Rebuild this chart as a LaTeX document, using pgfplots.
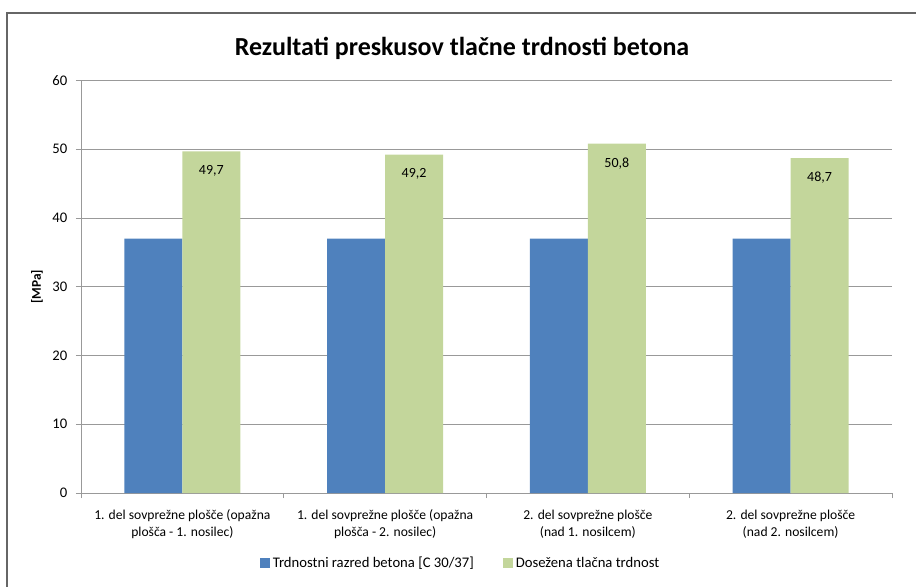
\documentclass[border=0pt]{standalone}
\usepackage{pgfplots}
\pgfplotsset{compat=1.18}
\usepackage{fontspec}
\setmainfont{Carlito}
\definecolor{cblue}{HTML}{4F81BD}
\definecolor{cgreen}{HTML}{C3D69B}
\definecolor{gridc}{HTML}{999999}
\begin{document}
\begin{tikzpicture}
\useasboundingbox (0,0) rectangle (687pt,439.5pt);
\draw[gray!80!black, line width=1pt] (5.25pt,-15pt) rectangle (705pt,429.75pt);
\node[font=\bfseries\fontsize{19.5}{23}\selectfont] at (346.5pt,403.5pt) {Rezultati preskusov tlačne trdnosti betona};
\begin{axis}[
  at={(60.75pt,69.75pt)}, anchor=south west,
  scale only axis, width=608.25pt, height=309.4pt,
  ymin=0, ymax=60, ytick={0,10,...,60},
  xmin=-0.5, xmax=3.5,
  xtick={0,1,2,3},
  xticklabels={{1. del sovprežne plošče (opažna\\plošča - 1. nosilec)},{1. del sovprežne plošče (opažna\\plošča - 2. nosilec)},{2. del sovprežne plošče\\(nad 1. nosilcem)},{2. del sovprežne plošče\\(nad 2. nosilcem)}},
  xticklabel style={align=center, font=\fontsize{10.2}{12.75}\selectfont, yshift=-5.5pt},
  yticklabel style={font=\fontsize{11}{13}\selectfont, xshift=-3pt},
  /pgf/number format/assume math mode=true,
  minor xtick={-0.5,0.5,1.5,2.5,3.5},
  major x tick style={draw=none},
  tick align=outside,
  major tick length=3.75pt, minor tick length=3.75pt,
  tick style={gridc, thin},
  axis x line*=bottom, axis y line*=left,
  axis line style={gridc, thin},
  ymajorgrids, grid style={gridc, thin},
  ylabel={\bfseries [MPa]}, ylabel style={font=\fontsize{10}{12}\selectfont, anchor=center, at={(axis description cs:-0.0543,0.5)}},
  ybar=0pt, bar width=0.286,
  legend style={draw=none, at={(0.4686,-0.1697)}, anchor=center, legend columns=2, font=\fontsize{11}{13}\selectfont,
    /tikz/every even column/.append style={column sep=20pt}},
  legend image code/.code={\fill[#1] (0pt,-3.75pt) rectangle (7.5pt,3.75pt);},
]
\addplot[fill=cblue, draw=none] coordinates {(0,37) (1,37) (2,37) (3,37)};
\addlegendentry{Trdnostni razred betona [C 30/37]}
\addplot[fill=cgreen, draw=none,
  nodes near coords,
  nodes near coords style={anchor=north, yshift=-7pt, font=\fontsize{10.5}{12}\selectfont, /pgf/number format/.cd, use comma, fixed, fixed zerofill, precision=1, assume math mode=true}]
  coordinates {(0,49.7) (1,49.2) (2,50.8) (3,48.7)};
\addlegendentry{Dosežena tlačna trdnost}
\end{axis}
\end{tikzpicture}
\end{document}
